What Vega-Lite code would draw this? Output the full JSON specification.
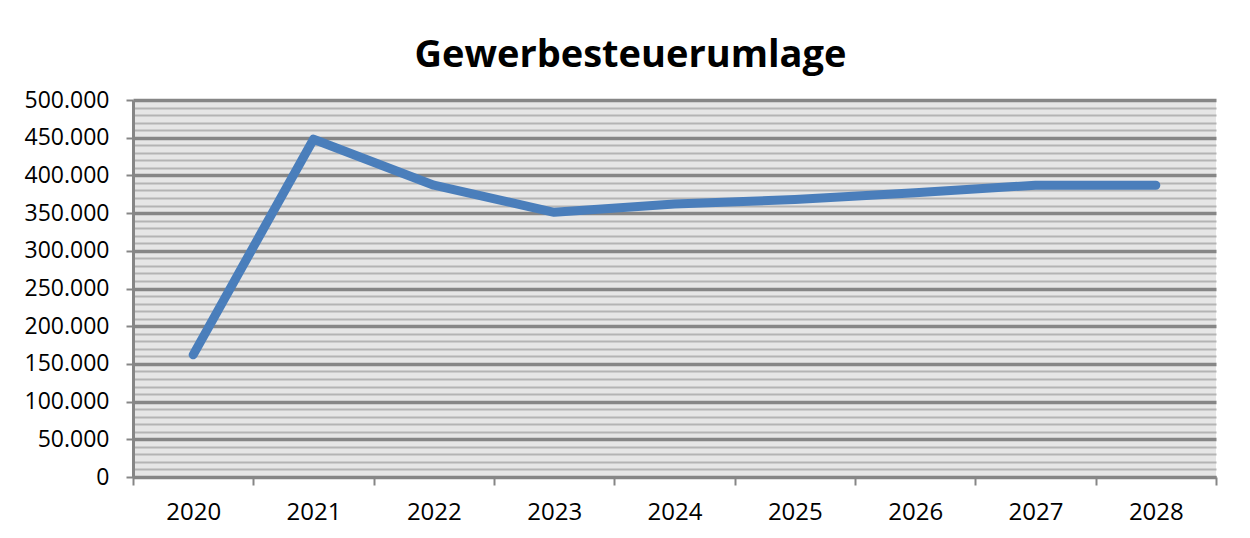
{
  "$schema": "https://vega.github.io/schema/vega-lite/v6.json",
  "width": 1083,
  "height": 377,
  "autosize": {"type": "none"},
  "padding": {"left": 133, "top": 100, "right": 34, "bottom": 61},
  "background": "#ffffff",
  "title": {
    "text": "Gewerbesteuerumlage",
    "font": "Open Sans",
    "fontSize": 38,
    "fontWeight": "bold",
    "color": "#000000",
    "anchor": "middle",
    "dx": -44,
    "offset": 14
  },
  "data": {
    "values": [
      {"year": "2020", "value": 162000},
      {"year": "2021", "value": 448000},
      {"year": "2022", "value": 387000},
      {"year": "2023", "value": 351000},
      {"year": "2024", "value": 362000},
      {"year": "2025", "value": 368000},
      {"year": "2026", "value": 377000},
      {"year": "2027", "value": 387000},
      {"year": "2028", "value": 387000}
    ]
  },
  "mark": {"type": "line", "color": "#4a7ebb", "strokeWidth": 9, "strokeCap": "round", "strokeJoin": "round"},
  "encoding": {
    "x": {
      "field": "year",
      "type": "ordinal",
      "scale": {"type": "band", "paddingInner": 0, "paddingOuter": 0},
      "axis": {
        "title": null,
        "labelAngle": 0,
        "labelFont": "Open Sans",
        "labelFontSize": 24,
        "labelColor": "#000000",
        "labelPadding": 15,
        "tickBand": "extent",
        "tickColor": "#868686",
        "tickWidth": 2,
        "tickSize": 8,
        "domainColor": "#868686",
        "domainWidth": 3,
        "grid": false
      }
    },
    "y": {
      "field": "value",
      "type": "quantitative",
      "scale": {"domain": [0, 500000], "nice": false},
      "axis": {
        "title": null,
        "values": [0, 10000, 20000, 30000, 40000, 50000, 60000, 70000, 80000, 90000, 100000, 110000, 120000, 130000, 140000, 150000, 160000, 170000, 180000, 190000, 200000, 210000, 220000, 230000, 240000, 250000, 260000, 270000, 280000, 290000, 300000, 310000, 320000, 330000, 340000, 350000, 360000, 370000, 380000, 390000, 400000, 410000, 420000, 430000, 440000, 450000, 460000, 470000, 480000, 490000, 500000],
        "labelExpr": "datum.value % 50000 === 0 ? replace(format(datum.value, ','), ',', '.') : ''",
        "labelFont": "Open Sans",
        "labelFontSize": 23,
        "labelColor": "#000000",
        "labelPadding": 17,
        "tickSize": 7,
        "tickWidth": 2,
        "tickColor": "#868686",
        "tickOpacity": {"condition": {"test": "datum.value % 50000 === 0", "value": 1}, "value": 0},
        "domainColor": "#868686",
        "domainWidth": 3,
        "grid": true,
        "gridColor": {"condition": {"test": "datum.value % 50000 === 0", "value": "#868686"}, "value": "#b4b4b4"},
        "gridWidth": {"condition": {"test": "datum.value % 50000 === 0", "value": 3.5}, "value": 2},
        "gridOpacity": 1,
        "labelOverlap": false
      }
    }
  },
  "config": {
    "view": {"fill": "#e6e6e6", "stroke": null}
  }
}
